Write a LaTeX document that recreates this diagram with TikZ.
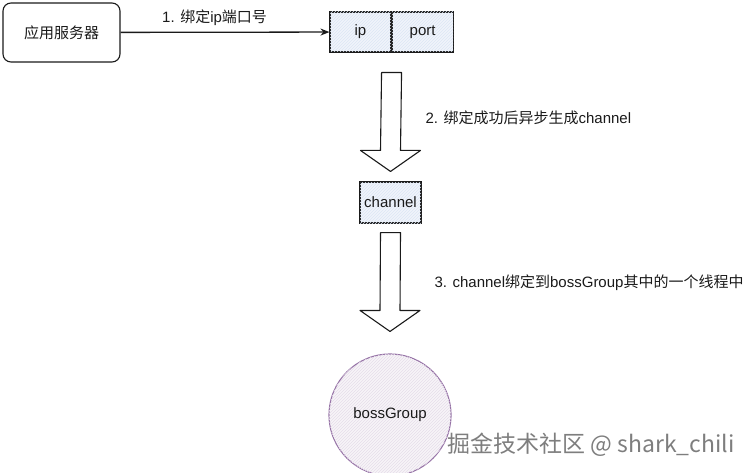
\documentclass[tikz,border=0pt]{standalone}
\usepackage{fontspec}
\setmainfont{Liberation Sans}
\newfontfamily\cjk{Noto Sans CJK SC}
\usetikzlibrary{positioning,calc,arrows.meta,patterns}
\definecolor{ink}{HTML}{1A1A1A}
\definecolor{ipfill}{HTML}{F0F4FB}
\definecolor{iphatch}{HTML}{DCE6F4}
\definecolor{bossline}{HTML}{9673A6}
\definecolor{bossfill}{HTML}{F7F4F8}
\definecolor{bosshatch}{HTML}{E6DDEA}
\definecolor{mark}{HTML}{7E7E7E}
\begin{document}
\begin{tikzpicture}[x=1pt,y=-1pt,
    every node/.style={font=\fontsize{15}{18}\selectfont, text=ink},
    sketchbox/.style={draw=ink, line width=1.1pt, inner sep=0pt},
    bluebox/.style={sketchbox, fill=ipfill, postaction={pattern=north east lines, pattern color=iphatch},
        minimum width=61pt, minimum height=40pt},
    blockarrow/.style={draw=ink, line width=1.1pt, fill=white, line join=round},
    flow/.style={-{Stealth[length=9pt,width=7pt]}, draw=ink, line width=1.3pt}]
\useasboundingbox (0,0) rectangle (751,473);

\node[sketchbox, rounded corners=8pt, minimum width=117pt, minimum height=59pt] (app) at (61.5,32.5) {\cjk 应用服务器};
\node[bluebox] (ip) at (360.5,32) {ip};
\node[bluebox, right=0pt of ip] (port) {port};
\node[bluebox, minimum height=41pt] (chan) at (390.5,202.5) {channel};
\node[circle, draw=bossline, line width=1.1pt, fill=bossfill,
    postaction={pattern=north east lines, pattern color=bosshatch},
    minimum size=122pt, inner sep=0pt] (boss) at (390,415) {bossGroup};

\draw[flow] (app) -- (ip) node[pos=0.45, above=3pt] {1. {\cjk 绑定}ip{\cjk 端口号}};

\foreach \a/\b/\s/\e in {ip.south east/chan.north/20/10, chan.south/boss.north/9/22}
{
    \path ($(\a)+(0,\s)$) coordinate (t) ($(\b)+(0,-\e)$) coordinate (h);
    \draw[blockarrow] ($(t)+(-10,0)$) -- ($(h)+(-10,-21)$) -- ($(h)+(-30,-21)$) -- (h)
        -- ($(h)+(30,-21)$) -- ($(h)+(10,-21)$) -- ($(t)+(10,0)$) -- cycle;
}

\node[anchor=west] (step2) at (422,118) {2. {\cjk 绑定成功后异步生成}channel};
\node[anchor=west] (step3) at (431,283) {3. channel{\cjk 绑定到}bossGroup{\cjk 其中的一个线程中}};

\node[text=mark, font=\cjk\fontsize{23}{27}\selectfont] (wm) at (591,445) {掘金技术社区 @ shark\_chili};
\end{tikzpicture}
\end{document}
